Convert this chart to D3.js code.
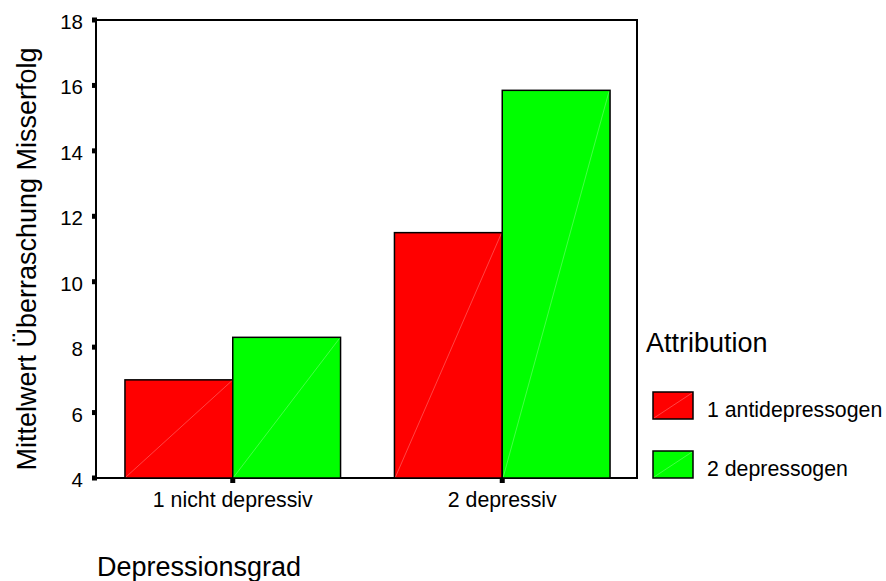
<!DOCTYPE html>
<html><head><meta charset="utf-8">
<script src="https://cdn.jsdelivr.net/npm/d3@7"></script>
<style>body{margin:0;background:#fff}svg{display:block;font-family:Arial,"Liberation Sans",sans-serif}</style>
</head><body>
<svg id="c" width="886" height="581"></svg>
<script>
const categories = ["1 nicht depressiv", "2 depressiv"];
const seriesNames = ["1 antidepressogen", "2 depressogen"];
const antidepressogen = [7.0, 11.5];
const depressogen = [8.3, 15.85];
const yTicks = [4, 6, 8, 10, 12, 14, 16, 18];
const colors = ["#ff0000", "#00ff00"];

const svg = d3.select("#c");
const L = 96, R = 637, T = 20, B = 478;
const x = d3.scaleBand().domain(categories).range([L + 2, R]).paddingInner(0.2).paddingOuter(0.1);
const xs = d3.scaleBand().domain(seriesNames).range([0, x.bandwidth()]);
const y = d3.scaleLinear().domain([4, 18]).range([B, T]);

const series = [antidepressogen, depressogen];
const bars = [];
categories.forEach((c, i) => series.forEach((s, j) => bars.push({c, s: seriesNames[j], v: s[i], col: colors[j]})));

// frame
svg.append("rect").attr("x", L).attr("y", T).attr("width", R - L).attr("height", B - T)
  .attr("fill", "none").attr("stroke", "#000").attr("stroke-width", 2);

const g = svg.append("g");
bars.forEach(b => {
  const x0 = x(b.c) + xs(b.s), w = xs.bandwidth(), y0 = y(b.v);
  g.append("rect").attr("x", x0).attr("y", y0).attr("width", w).attr("height", B - y0)
    .attr("fill", b.col).attr("stroke", "#000").attr("stroke-width", 1.5);
  g.append("line").attr("x1", x0 + 1).attr("y1", B - 1).attr("x2", x0 + w - 1).attr("y2", y0 + 1)
    .attr("stroke", "rgba(255,255,255,0.45)").attr("stroke-width", 0.6);
});

// y axis ticks and labels
yTicks.forEach(t => {
  svg.append("rect").attr("x", L - 4).attr("y", y(t) - 2.5).attr("width", 5).attr("height", 5).attr("fill", "#000");
  svg.append("text").attr("x", 83).attr("y", y(t) + 9).attr("text-anchor", "end")
    .attr("font-size", 20.5).text(t);
});
// x ticks & labels
categories.forEach(c => {
  const cx = x(c) + x.bandwidth() / 2;
  svg.append("rect").attr("x", cx - 2.5).attr("y", B).attr("width", 5).attr("height", 5).attr("fill", "#000");
  svg.append("text").attr("x", cx).attr("y", 506.5).attr("text-anchor", "middle").attr("font-size", 21.3).text(c);
});

// axis titles
svg.append("text").attr("transform", "translate(36,259) rotate(-90)").attr("text-anchor", "middle")
  .attr("font-size", 27).text("Mittelwert Überraschung Misserfolg");
svg.append("text").attr("x", 97).attr("y", 575.5).attr("font-size", 27).text("Depressionsgrad");

// legend
svg.append("text").attr("x", 646).attr("y", 351.5).attr("font-size", 27).text("Attribution");
seriesNames.forEach((s, j) => {
  const yy = 392 + j * 59;
  svg.append("rect").attr("x", 653).attr("y", yy).attr("width", 40).attr("height", 27)
    .attr("fill", colors[j]).attr("stroke", "#000").attr("stroke-width", 1.5);
  svg.append("line").attr("x1", 654).attr("y1", yy + 26).attr("x2", 692).attr("y2", yy + 1)
    .attr("stroke", "rgba(255,255,255,0.45)").attr("stroke-width", 0.6);
  svg.append("text").attr("x", 707).attr("y", yy + 25).attr("font-size", 21.3).text(s);
});
</script>
</body></html>
